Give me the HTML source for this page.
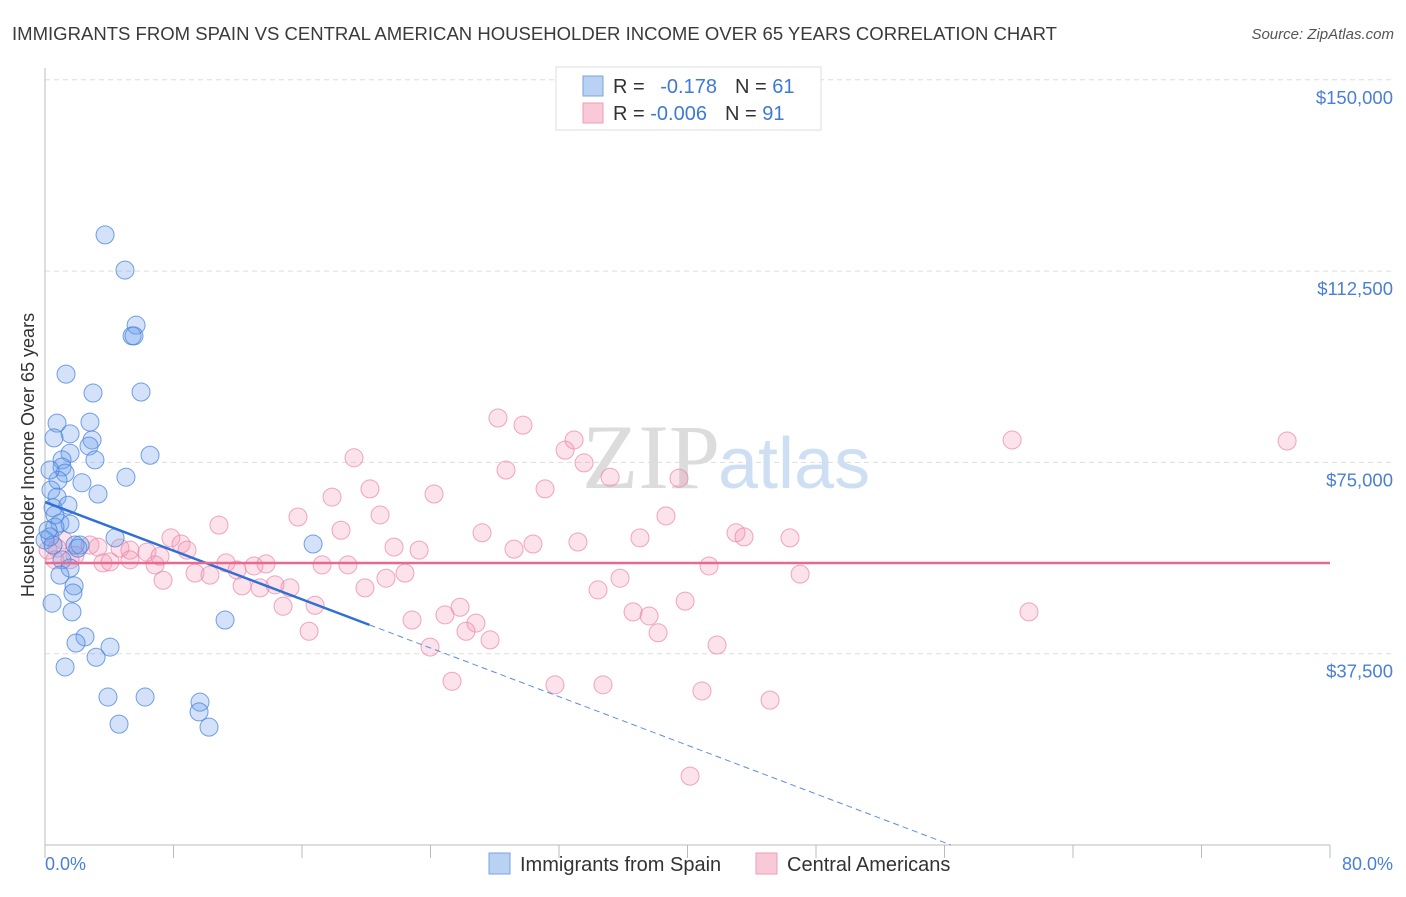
<!DOCTYPE html>
<html><head><meta charset="utf-8"><style>
body{margin:0;background:#fff;font-family:"Liberation Sans",sans-serif;}
</style></head><body>
<svg width="1406" height="892" viewBox="0 0 1406 892" xmlns="http://www.w3.org/2000/svg">
<text x="12" y="40" font-size="18" fill="#3a3a3a" textLength="1045" lengthAdjust="spacingAndGlyphs">IMMIGRANTS FROM SPAIN VS CENTRAL AMERICAN HOUSEHOLDER INCOME OVER 65 YEARS CORRELATION CHART</text>
<text x="1394" y="39" font-size="15" fill="#555" font-style="italic" text-anchor="end">Source: ZipAtlas.com</text>
<g id="grid"></g>
<text x="720" y="488" font-size="92" fill="#dcdcdc" text-anchor="end" font-family="Liberation Serif">ZIP</text>
<text x="718" y="488" font-size="72" fill="#cfdff3">atlas</text>
<g id="axes"></g>
<g id="pts"></g>
<g id="trend"></g>
<text transform="translate(34,455) rotate(-90)" font-size="18" fill="#333" text-anchor="middle">Householder Income Over 65 years</text>
<text x="45" y="870" font-size="18" fill="#4a7fd6">0.0%</text>
<text x="1393" y="870" font-size="18" fill="#4a7fd6" text-anchor="end">80.0%</text>
<g>
<rect x="556" y="67" width="265" height="63" fill="#fff" stroke="#ddd"/>
<rect x="583" y="76" width="20" height="20" fill="#b9d1f3" stroke="#7aa3e0"/>
<rect x="583" y="103" width="20" height="20" fill="#f9c9d8" stroke="#ee9db5"/>
<text x="613" y="93" font-size="20" fill="#333">R = <tspan fill="#3d7ad6" dx="10">-0.178</tspan><tspan dx="18" fill="#333">N = </tspan><tspan fill="#3d7ad6">61</tspan></text>
<text x="613" y="120" font-size="20" fill="#333">R = <tspan fill="#3d7ad6">-0.006</tspan><tspan dx="18" fill="#333">N = </tspan><tspan fill="#3d7ad6">91</tspan></text>
</g>
<g>
<rect x="489" y="853" width="21" height="21" fill="#b9d1f3" stroke="#7aa3e0"/>
<text x="520" y="871" font-size="20" fill="#333">Immigrants from Spain</text>
<rect x="756" y="853" width="21" height="21" fill="#f9c9d8" stroke="#ee9db5"/>
<text x="787" y="871" font-size="20" fill="#333">Central Americans</text>
</g>
</svg>
<script>
const yTicks=[37500,75000,112500,150000];
const yTickLabels=["$37,500","$75,000","$112,500","$150,000"];
const spainX=[3.74,4.98,5.67,5.42,5.54,1.31,2.99,5.98,0.75,2.80,1.56,0.56,2.93,2.74,6.54,1.56,1.06,1.06,1.25,0.81,2.30,5.04,3.30,0.37,0.75,0.50,0.93,1.56,0.62,0.31,4.36,0,1.87,2.18,16.69,1.06,1.56,0.93,1.81,1.74,0.44,1.68,2.49,1.93,4.05,3.18,1.25,3.92,6.23,9.65,9.59,4.61,10.21,11.21,0.50,0.19,2.05,1.43,0.31,3.11,0.62];
const spainY=[119600,112700,101900,99800,99800,92300,88600,88800,82700,82900,80600,79800,79400,78200,76400,76800,75500,74100,72900,71500,71000,72100,68800,69600,68200,66100,63100,62900,62300,60400,60200,59800,58800,58800,59000,55900,54300,52900,50800,49400,47400,45700,40800,39600,38800,36800,34900,29000,29000,28000,26100,23700,23100,44100,58800,61700,58200,66600,73500,75500,64700];
const centralX=[28.20,29.76,32.94,32.38,60.21,77.33,19.24,28.70,33.56,35.18,39.47,20.23,17.87,31.13,24.22,20.86,15.75,38.66,10.83,18.43,27.21,43.02,43.52,46.38,37.04,33.18,30.38,29.20,21.73,23.29,7.84,8.47,8.84,1.12,2.80,3.30,4.67,5.29,6.35,7.16,0.75,1.87,3.61,5.29,6.85,11.27,13.01,13.76,11.95,17.25,18.86,22.41,21.23,7.35,9.34,10.27,12.27,13.39,14.32,15.25,41.34,47.01,35.80,19.92,34.43,14.82,16.81,25.84,24.90,22.85,36.61,37.61,39.85,26.83,26.21,16.44,27.71,38.17,23.97,41.84,61.26,25.34,31.75,34.74,40.90,45.14,40.16,0.19,0.62,1.56,4.05];
const centralY=[83700,82300,79400,77400,79400,79200,75900,73500,74900,72100,71900,69800,68200,69800,68800,64700,64300,64500,62700,61700,61200,61200,60400,60200,60200,59400,59000,58000,58400,57800,60200,59000,57800,59800,58800,58400,58200,57800,57400,56600,58200,56800,55300,55900,54900,55300,54700,55100,53900,54900,54900,53300,52300,51900,53300,52900,50800,50400,51000,50400,54700,53100,52300,50400,50000,46800,47000,46600,45100,44100,45700,44900,47800,43500,41900,41900,40200,41600,38800,39200,45700,32100,31400,31400,30200,28400,13500,57800,55900,55900,55500];
const spainTrend=[67230,-1192];
const centralTrend=[55280,0];
const NS="http://www.w3.org/2000/svg";
const X0=45,X1=1330,Y0=845,YPX=191.3/37500;
const sx=p=>X0+(X1-X0)*p/80;
const sy=v=>Y0-v*YPX;
function mk(tag,attrs,parent){const e=document.createElementNS(NS,tag);for(const k in attrs)e.setAttribute(k,attrs[k]);parent.appendChild(e);return e;}
const grid=document.getElementById('grid'),axes=document.getElementById('axes');
yTicks.forEach((t,i)=>{
  const l=mk('line',{x1:X0,x2:1395,y1:sy(t),y2:sy(t),stroke:'#ddd','stroke-dasharray':'5,4'},grid);
  
  
  const tx=mk('text',{x:1393,y:sy(t)+24,'font-size':18.5,fill:'#4a7fd6','text-anchor':'end'},axes);
  tx.textContent=yTickLabels[i];
  
  
});
const a1=mk('line',{x1:X0,x2:X0,y1:68,y2:Y0,stroke:'#bbb'},axes);


const a2=mk('line',{x1:X0,x2:1330,y1:Y0,y2:Y0,stroke:'#bbb'},axes);


for(let i=0;i<=10;i++){
  const tk=mk('line',{x1:sx(i*8),x2:sx(i*8),y1:Y0,y2:Y0+13,stroke:'#bbb'},axes);
  
  
}
const pts=document.getElementById('pts');
centralX.forEach((x,i)=>{
  const c=mk('circle',{cx:sx(x),cy:sy(centralY[i]),r:9,fill:'rgba(244,150,180,0.28)',stroke:'rgba(236,130,165,0.7)','stroke-width':1},pts);
  
  
});
spainX.forEach((x,i)=>{
  const c=mk('circle',{cx:sx(x),cy:sy(spainY[i]),r:9,fill:'rgba(110,160,235,0.3)',stroke:'rgba(70,130,220,0.75)','stroke-width':1},pts);
  
  
});
const tr=document.getElementById('trend');
const f=(t,x)=>t[0]+t[1]*x;
const l1=mk('line',{x1:sx(0),y1:sy(f(spainTrend,0)),x2:sx(20.2),y2:sy(f(spainTrend,20.2)),stroke:'#2f6fd6','stroke-width':2.5},tr);


const xe=-spainTrend[0]/spainTrend[1];
const l2=mk('line',{x1:sx(20.2),y1:sy(f(spainTrend,20.2)),x2:sx(xe),y2:sy(0),stroke:'#5b8fe0','stroke-width':1,'stroke-dasharray':'6,4'},tr);


const l3=mk('line',{x1:sx(0),y1:sy(f(centralTrend,0)),x2:sx(80),y2:sy(f(centralTrend,80)),stroke:'#e8688f','stroke-width':2.5},tr);


</script>
</body></html>
